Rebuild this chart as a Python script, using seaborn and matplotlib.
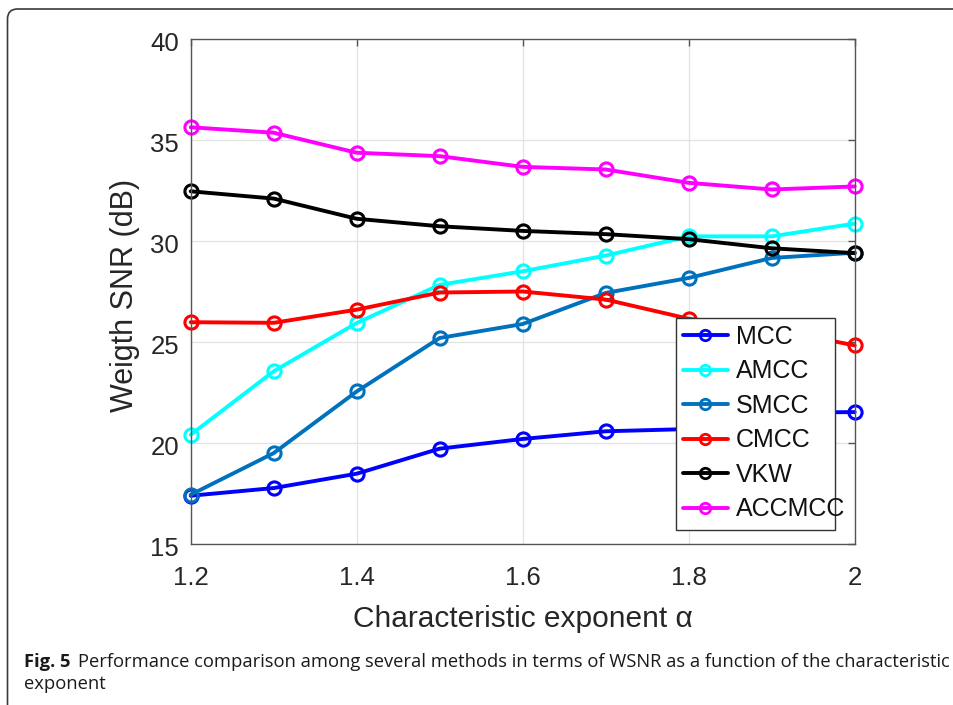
"""
WSNR vs characteristic exponent for several MCC-type methods (Fig. 5 recreation).
Output: out.png (954x705)
"""

import matplotlib.pyplot as plt
import pandas as pd
import seaborn as sns
from matplotlib.patches import FancyBboxPatch, Rectangle
from matplotlib.transforms import IdentityTransform, ScaledTranslation

# ── Data ─────────────────────────────────────────────────────────────────────
ALPHA = [1.2, 1.3, 1.4, 1.5, 1.6, 1.7, 1.8, 1.9, 2.0]

MCC = [17.39, 17.77, 18.48, 19.72, 20.20, 20.58, 20.69, 21.50, 21.53]
AMCC = [20.41, 23.55, 25.94, 27.83, 28.50, 29.28, 30.23, 30.23, 30.86]
SMCC = [17.44, 19.50, 22.55, 25.20, 25.89, 27.43, 28.17, 29.16, 29.42]
CMCC = [25.98, 25.95, 26.60, 27.45, 27.50, 27.10, 26.15, 25.65, 24.83]
VKW = [32.46, 32.10, 31.10, 30.73, 30.50, 30.34, 30.09, 29.64, 29.40]
ACCMCC = [35.63, 35.36, 34.37, 34.20, 33.67, 33.54, 32.88, 32.55, 32.70]

METHODS = ["MCC", "AMCC", "SMCC", "CMCC", "VKW", "ACCMCC"]
COLORS = ["#0000ff", "#00ffff", "#0072bd", "#ff0000", "#000000", "#ff00ff"]

X_TICKS = [1.2, 1.4, 1.6, 1.8, 2.0]
X_TICK_LABELS = ["1.2", "1.4", "1.6", "1.8", "2"]
Y_TICKS = [15, 20, 25, 30, 35, 40]

CAPTION_BOLD = "Fig. 5"
CAPTION_LINE1 = ("Performance comparison among several methods in terms of WSNR "
                 "as a function of the characteristic")
CAPTION_LINE2 = "exponent"

TEXT_GRAY = "#262626"
AXIS_GRAY = "#555555"


def build_frame() -> pd.DataFrame:
    series = [MCC, AMCC, SMCC, CMCC, VKW, ACCMCC]
    rows = []
    for name, vals in zip(METHODS, series):
        for a, v in zip(ALPHA, vals):
            rows.append({"alpha": a, "wsnr": v, "method": name})
    return pd.DataFrame(rows)


def main() -> None:
    sns.set_theme(style="white")
    plt.rcParams["font.family"] = ["Liberation Sans", "DejaVu Sans"]

    df = build_frame()

    fig = plt.figure(figsize=(9.54, 7.05), dpi=100)
    # axes box in pixels: x 190.7..854.7, y 39..544 (from top)
    ax = fig.add_axes([190.7 / 954, 161 / 705, 664 / 954, 505 / 705])

    sns.lineplot(
        data=df, x="alpha", y="wsnr", hue="method",
        hue_order=METHODS, palette=COLORS,
        marker="o", markersize=9.5, markerfacecolor="none",
        linewidth=2.8, ax=ax, legend=False,
    )
    # seaborn paints marker edges white by default; match them to the lines
    for line in ax.lines:
        line.set_markeredgecolor(line.get_color())
        line.set_markeredgewidth(2.2)
        line.set_clip_on(False)

    ax.set_xlim(1.2, 2.0)
    ax.set_ylim(15, 40)
    ax.set_xticks(X_TICKS)
    ax.set_xticklabels(X_TICK_LABELS)
    ax.set_yticks(Y_TICKS)

    ax.grid(True, color="#e2e2e2", linewidth=0.9)
    ax.set_axisbelow(True)
    for sp in ax.spines.values():
        sp.set_visible(True)
        sp.set_color(AXIS_GRAY)
        sp.set_linewidth(1.0)

    ax.tick_params(direction="in", length=5, width=1.0, color=AXIS_GRAY,
                   top=True, right=True, labelsize=18.5, labelcolor=TEXT_GRAY)
    ax.tick_params(axis="x", pad=15.5)
    ax.tick_params(axis="y", pad=8.5)
    # MATLAB sits the y tick labels a hair below their ticks
    nudge = ScaledTranslation(0, -0.025, fig.dpi_scale_trans)
    for lab in ax.get_yticklabels():
        lab.set_transform(lab.get_transform() + nudge)

    ax.set_xlabel("Characteristic exponent α", fontsize=21.5, color=TEXT_GRAY)
    ax.set_ylabel("Weigth SNR (dB)", fontsize=22, color=TEXT_GRAY)
    ax.xaxis.set_label_coords(0.5, -0.121)
    ax.yaxis.set_label_coords(-0.0767, 0.4915)

    # ── Legend: MATLAB box is drawn a bit narrower than its longest label ────
    box = Rectangle((0.7309, 0.0277), 0.9703 - 0.7309, 0.4481 - 0.0277,
                    transform=ax.transAxes, facecolor="white",
                    edgecolor="#333333", linewidth=1.0, zorder=4.9,
                    clip_on=False)
    ax.add_patch(box)
    handles = [
        plt.Line2D([], [], color=c, lw=2.8, marker="o", markersize=7.5,
                   markerfacecolor="none", markeredgewidth=2.0)
        for c in COLORS
    ]
    leg = ax.legend(
        handles, METHODS, loc="upper left",
        bbox_to_anchor=(0.741, 0.4339),
        fontsize=18, frameon=False, handlelength=1.82, handletextpad=0.3,
        labelspacing=0.42, borderpad=0, borderaxespad=0,
    )
    leg.set_zorder(5)
    for t in leg.get_texts():
        t.set_color("#111111")

    # ── Journal-style frame and caption ──────────────────────────────────────
    frame = FancyBboxPatch(
        (7.5, -60), 1100, 705 - 9 + 60,
        boxstyle="round,pad=0,rounding_size=10",
        transform=IdentityTransform(), facecolor="none",
        edgecolor="#3a3a3a", linewidth=1.2,
    )
    fig.patches.append(frame)

    cap_kw = dict(fontsize=13.2, color="#1a1a1a", family=["Open Sans", "DejaVu Sans"],
                  va="baseline", transform=IdentityTransform())
    bold = fig.text(24, 705 - 667, CAPTION_BOLD, fontweight="bold", **cap_kw)
    fig.canvas.draw()
    bb = bold.get_window_extent()
    fig.text(bb.x1 + 7, 705 - 667, CAPTION_LINE1, **cap_kw)
    fig.text(24, 705 - 689, CAPTION_LINE2, **cap_kw)

    fig.savefig("out.png", dpi=100)
    plt.close(fig)


if __name__ == "__main__":
    main()
